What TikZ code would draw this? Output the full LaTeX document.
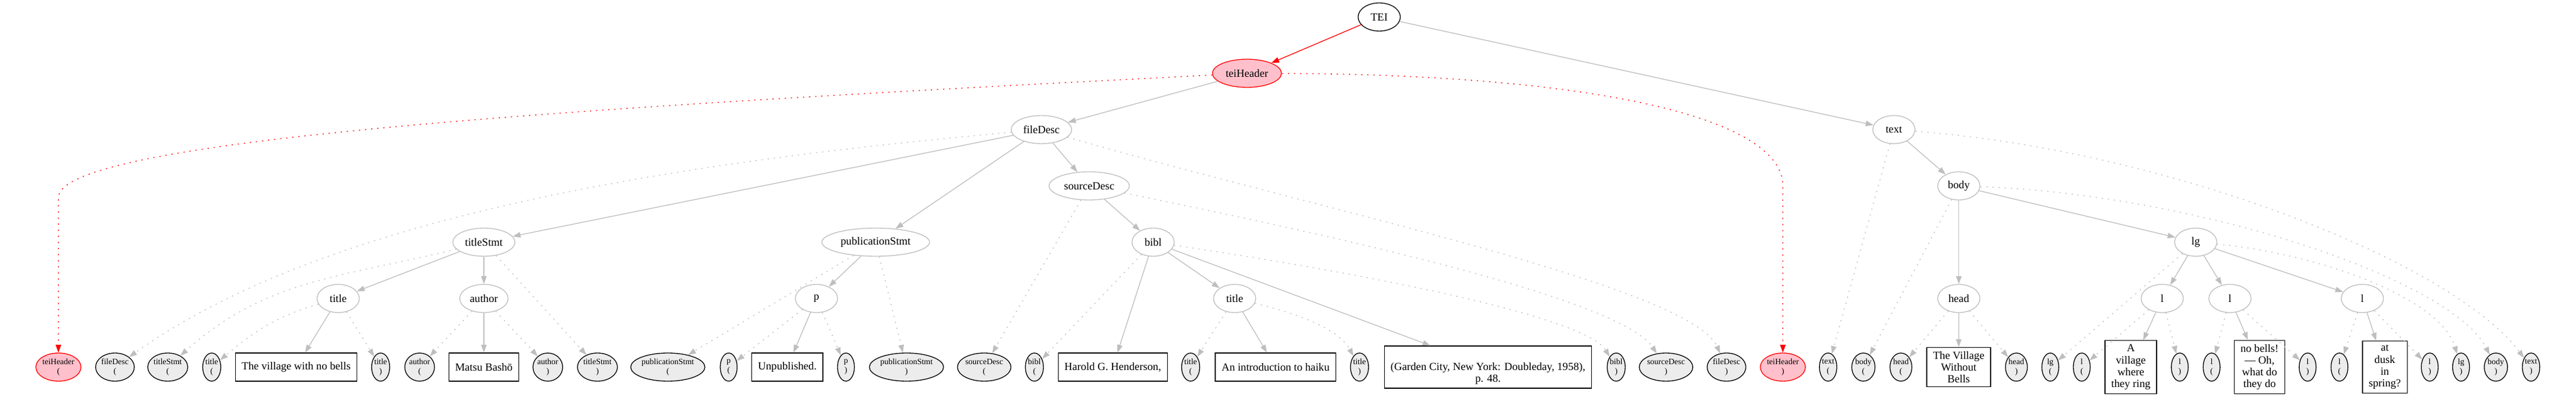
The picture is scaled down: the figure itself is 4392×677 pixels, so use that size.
\documentclass[tikz,border=0pt]{standalone}
\usepackage{fontspec}
\setmainfont{Liberation Serif}
\usetikzlibrary{shapes.geometric,arrows.meta}
\definecolor{edgegray}{RGB}{190,190,190}
\definecolor{leafgray}{RGB}{236,236,236}
\definecolor{headpink}{RGB}{255,192,203}
% rows of the tree (px, from the bottom)
\def\rowa{648}
\def\rowb{552}
\def\rowc{456}
\def\rowd{360}
\def\rowe{264}
\def\rowf{168}
\def\rowleaf{51}

\begin{document}
\begin{tikzpicture}[x=0.75pt, y=0.75pt,
    elem/.style={ellipse, draw=edgegray, line width=1pt, minimum width=54pt, minimum height=36pt, inner xsep=4pt, inner ysep=0pt, font=\fontsize{14}{16}\selectfont},
    leaf/.style={ellipse, draw=black, fill=leafgray, line width=1pt, minimum width=21.6pt, minimum height=36pt, inner sep=0pt, align=center, font=\fontsize{10.5}{12}\selectfont},
    words/.style={rectangle, draw=black, line width=1pt, minimum height=36pt, inner xsep=8pt, inner ysep=5pt, align=center, font=\fontsize{14}{15.2}\selectfont},
    kid/.style={draw=edgegray, line width=1pt, -{Triangle[length=10pt,width=7pt]}},
    tagline/.style={kid, dash pattern=on 1.6pt off 6.2pt}]
  \useasboundingbox (0,0) rectangle (4392,677);

  % element nodes
  \node[elem, draw=black] (TEI) at (2351.5,\rowa) {TEI};
  \node[elem, draw=red, fill=headpink] (teiHeader) at (2126,\rowb) {teiHeader};
  \node[elem] (fileDesc) at (1775.6,\rowc) {fileDesc};
  \node[elem] (text) at (3229,\rowc) {text};
  \node[elem] (sourceDesc) at (1857,\rowd) {sourceDesc};
  \node[elem] (body) at (3339.7,\rowd) {body};
  \node[elem] (titleStmt) at (825,\rowe) {titleStmt};
  \node[elem] (publicationStmt) at (1493,\rowe) {publicationStmt};
  \node[elem] (bibl) at (1966,\rowe) {bibl};
  \node[elem] (lg) at (3743.6,\rowe) {lg};
  \node[elem] (title1) at (576.6,\rowf) {title};
  \node[elem] (author) at (825,\rowf) {author};
  \node[elem] (p) at (1392,\rowf) {p};
  \node[elem] (title2) at (2105,\rowf) {title};
  \node[elem] (head) at (3339.7,\rowf) {head};
  \node[elem] (l1) at (3686.5,\rowf) {l};
  \node[elem] (l2) at (3802,\rowf) {l};
  \node[elem] (l3) at (4027.7,\rowf) {l};

  % open / close leaves
  \node[leaf, draw=red, fill=headpink] (teiHeader-o) at (99.6,\rowleaf) {teiHeader\\(};
  \node[leaf] (fileDesc-o) at (196,\rowleaf) {fileDesc\\(};
  \node[leaf] (titleStmt-o) at (286,\rowleaf) {titleStmt\\(};
  \node[leaf] (title1-o) at (361,\rowleaf) {title\\(};
  \node[leaf] (title1-c) at (649,\rowleaf) {title\\)};
  \node[leaf] (author-o) at (715.5,\rowleaf) {author\\(};
  \node[leaf] (author-c) at (934,\rowleaf) {author\\)};
  \node[leaf] (titleStmt-c) at (1018.6,\rowleaf) {titleStmt\\)};
  \node[leaf] (publicationStmt-o) at (1138.6,\rowleaf) {publicationStmt\\(};
  \node[leaf] (p-o) at (1242.4,\rowleaf) {p\\(};
  \node[leaf] (p-c) at (1442.3,\rowleaf) {p\\)};
  \node[leaf] (publicationStmt-c) at (1545.5,\rowleaf) {publicationStmt\\)};
  \node[leaf] (sourceDesc-o) at (1678,\rowleaf) {sourceDesc\\(};
  \node[leaf] (bibl-o) at (1763.6,\rowleaf) {bibl\\(};
  \node[leaf] (title2-o) at (2030,\rowleaf) {title\\(};
  \node[leaf] (title2-c) at (2317.9,\rowleaf) {title\\)};
  \node[leaf] (bibl-c) at (2755.6,\rowleaf) {bibl\\)};
  \node[leaf] (sourceDesc-c) at (2840.5,\rowleaf) {sourceDesc\\)};
  \node[leaf] (fileDesc-c) at (2943.6,\rowleaf) {fileDesc\\)};
  \node[leaf, draw=red, fill=headpink] (teiHeader-c) at (3039.7,\rowleaf) {teiHeader\\)};
  \node[leaf] (text-o) at (3116.9,\rowleaf) {text\\(};
  \node[leaf] (body-o) at (3177,\rowleaf) {body\\(};
  \node[leaf] (head-o) at (3241,\rowleaf) {head\\(};
  \node[leaf] (head-c) at (3437.9,\rowleaf) {head\\)};
  \node[leaf] (lg-o) at (3495.7,\rowleaf) {lg\\(};
  \node[leaf] (l1-o) at (3549.3,\rowleaf) {l\\(};
  \node[leaf] (l1-c) at (3716.4,\rowleaf) {l\\)};
  \node[leaf] (l2-o) at (3770.7,\rowleaf) {l\\(};
  \node[leaf] (l2-c) at (3934.4,\rowleaf) {l\\)};
  \node[leaf] (l3-o) at (3988.7,\rowleaf) {l\\(};
  \node[leaf] (l3-c) at (4142.6,\rowleaf) {l\\)};
  \node[leaf] (lg-c) at (4196,\rowleaf) {lg\\)};
  \node[leaf] (body-c) at (4255.4,\rowleaf) {body\\)};
  \node[leaf] (text-c) at (4315.3,\rowleaf) {text\\)};

  % text content
  \node[words] (village) at (505,\rowleaf) {The village with no bells};
  \node[words] (basho) at (825,\rowleaf) {Matsu Bashō};
  \node[words] (unpub) at (1342.4,\rowleaf) {Unpublished.};
  \node[words] (henderson) at (1897.3,\rowleaf) {Harold G. Henderson,};
  \node[words] (intro) at (2174.8,\rowleaf) {An introduction to haiku};
  \node[words] (garden) at (2537,\rowleaf) {\strut\\(Garden City, New York: Doubleday, 1958),\\p. 48.};
  \node[words] (village2) at (3339.5,\rowleaf) {The Village\\Without\\Bells};
  \node[words] (linea) at (3633,\rowleaf) {A\\village\\where\\they ring};
  \node[words] (lineb) at (3852.5,\rowleaf) {no bells!\\— Oh,\\what do\\they do};
  \node[words] (linec) at (4066,\rowleaf) {at\\dusk\\in\\spring?};

  % child edges
  \draw[kid, draw=red, red] (TEI) -- (teiHeader);
  \draw[kid] (TEI) -- (text);
  \draw[kid] (teiHeader) -- (fileDesc);
  \draw[kid] (fileDesc) -- (titleStmt);
  \draw[kid] (fileDesc) -- (publicationStmt);
  \draw[kid] (fileDesc) -- (sourceDesc);
  \draw[kid] (titleStmt) -- (title1);
  \draw[kid] (titleStmt) -- (author);
  \draw[kid] (title1) -- (village);
  \draw[kid] (author) -- (basho);
  \draw[kid] (publicationStmt) -- (p);
  \draw[kid] (p) -- (unpub);
  \draw[kid] (sourceDesc) -- (bibl);
  \draw[kid] (bibl) -- (henderson);
  \draw[kid] (bibl) -- (title2);
  \draw[kid] (bibl) -- (garden);
  \draw[kid] (title2) -- (intro);
  \draw[kid] (text) -- (body);
  \draw[kid] (body) -- (head);
  \draw[kid] (body) -- (lg);
  \draw[kid] (head) -- (village2);
  \draw[kid] (lg) -- (l1);
  \draw[kid] (lg) -- (l2);
  \draw[kid] (lg) -- (l3);
  \draw[kid] (l1) -- (linea);
  \draw[kid] (l2) -- (lineb);
  \draw[kid] (l3) -- (linec);

  % tag edges, teiHeader in red
  \draw[tagline, draw=red, red] (teiHeader) .. controls (1000,495) and (99.6,440) .. (99.6,340) -- (teiHeader-o);
  \draw[tagline, draw=red, red] (teiHeader) .. controls (2700,550) and (3039.7,480) .. (3039.7,360) -- (teiHeader-c);
  \draw[tagline] (fileDesc) .. controls (1150,400) and (560,310) .. (fileDesc-o);
  \draw[tagline] (fileDesc) .. controls (2226,325) and (2880,190) .. (fileDesc-c);
  \draw[tagline] (titleStmt) to[out=194, in=42] (titleStmt-o);
  \draw[tagline] (titleStmt) -- (titleStmt-c);
  \draw[tagline] (title1) to[out=196, in=40] (title1-o);
  \draw[tagline] (title1) -- (title1-c);
  \draw[tagline] (author) -- (author-o);
  \draw[tagline] (author) -- (author-c);
  \draw[tagline] (publicationStmt) -- (publicationStmt-o);
  \draw[tagline] (publicationStmt) -- (publicationStmt-c);
  \draw[tagline] (p) -- (p-o);
  \draw[tagline] (p) -- (p-c);
  \draw[tagline] (sourceDesc) -- (sourceDesc-o);
  \draw[tagline] (sourceDesc) .. controls (2250,280) and (2760,170) .. (sourceDesc-c);
  \draw[tagline] (bibl) -- (bibl-o);
  \draw[tagline] (bibl) .. controls (2300,215) and (2700,140) .. (bibl-c);
  \draw[tagline] (title2) -- (title2-o);
  \draw[tagline] (title2) .. controls (2200,145) and (2280,120) .. (title2-c);
  \draw[tagline] (text) -- (text-o);
  \draw[tagline] (text) .. controls (3700,420) and (4180,230) .. (text-c);
  \draw[tagline] (body) -- (body-o);
  \draw[tagline] (body) .. controls (3750,345) and (4180,200) .. (body-c);
  \draw[tagline] (head) -- (head-o);
  \draw[tagline] (head) -- (head-c);
  \draw[tagline] (lg) -- (lg-o);
  \draw[tagline] (lg) .. controls (3950,245) and (4160,170) .. (lg-c);
  \draw[tagline] (l1) -- (l1-o);
  \draw[tagline] (l1) -- (l1-c);
  \draw[tagline] (l2) -- (l2-o);
  \draw[tagline] (l2) -- (l2-c);
  \draw[tagline] (l3) -- (l3-o);
  \draw[tagline] (l3) -- (l3-c);
\end{tikzpicture}
\end{document}
